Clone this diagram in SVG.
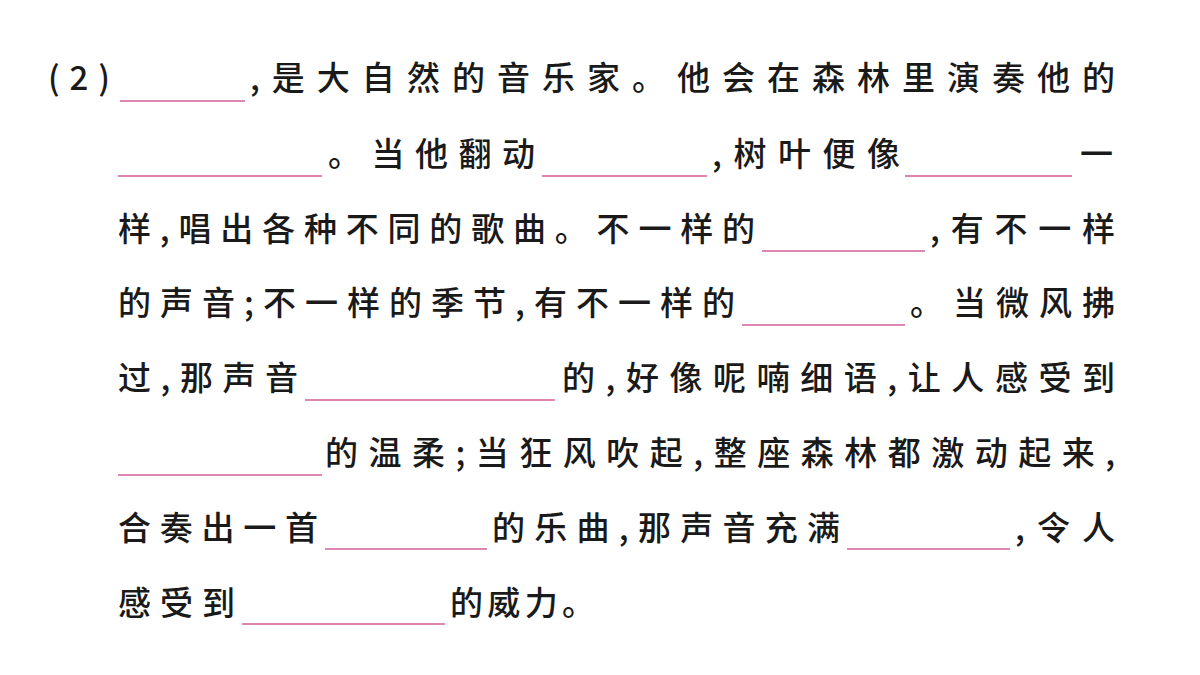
<svg xmlns="http://www.w3.org/2000/svg" width="1200" height="675" viewBox="0 0 1200 675">
<style>
text{font-family:"Noto Sans CJK SC","Noto Sans",sans-serif;font-size:33px;fill:#1a1a1a;font-weight:500}
line{stroke:#d2609a;stroke-width:1.5}
</style>
<rect width="1200" height="675" fill="#fff"/>
<g id="blanks">
<line x1="120" y1="101" x2="245" y2="101"/>
<line x1="118" y1="176" x2="322" y2="176"/>
<line x1="542" y1="176" x2="707" y2="176"/>
<line x1="905" y1="176" x2="1072" y2="176"/>
<line x1="762" y1="251" x2="925" y2="251"/>
<line x1="742" y1="325" x2="905" y2="325"/>
<line x1="305" y1="400" x2="555" y2="400"/>
<line x1="118" y1="475" x2="322" y2="475"/>
<line x1="325" y1="549" x2="487" y2="549"/>
<line x1="847" y1="549" x2="1010" y2="549"/>
<line x1="242" y1="624" x2="445" y2="624"/>
</g>
<g id="text">
<text x="48" y="90" textLength="62" lengthAdjust="spacing">(2)</text>
<text x="250" y="90" textLength="865" lengthAdjust="spacing">,是大自然的音乐家。他会在森林里演奏他的</text>
<text x="328" y="166" textLength="207" lengthAdjust="spacing">。当他翻动</text>
<text x="712" y="166" textLength="188" lengthAdjust="spacing">,树叶便像</text>
<text x="1080" y="166">一</text>
<text x="118" y="241" textLength="637" lengthAdjust="spacing">样,唱出各种不同的歌曲。不一样的</text>
<text x="930" y="241" textLength="185" lengthAdjust="spacing">,有不一样</text>
<text x="118" y="315" textLength="617" lengthAdjust="spacing">的声音;不一样的季节,有不一样的</text>
<text x="910" y="315" textLength="205" lengthAdjust="spacing">。当微风拂</text>
<text x="118" y="390" textLength="180" lengthAdjust="spacing">过,那声音</text>
<text x="562" y="390" textLength="553" lengthAdjust="spacing">的,好像呢喃细语,让人感受到</text>
<text x="325" y="465" textLength="790" lengthAdjust="spacing">的温柔;当狂风吹起,整座森林都激动起来,</text>
<text x="118" y="540" textLength="200" lengthAdjust="spacing">合奏出一首</text>
<text x="492" y="540" textLength="348" lengthAdjust="spacing">的乐曲,那声音充满</text>
<text x="1015" y="540" textLength="100" lengthAdjust="spacing">,令人</text>
<text x="118" y="615" textLength="117" lengthAdjust="spacing">感受到</text>
<text x="450" y="615" textLength="145" lengthAdjust="spacing">的威力。</text>
</g>
</svg>
